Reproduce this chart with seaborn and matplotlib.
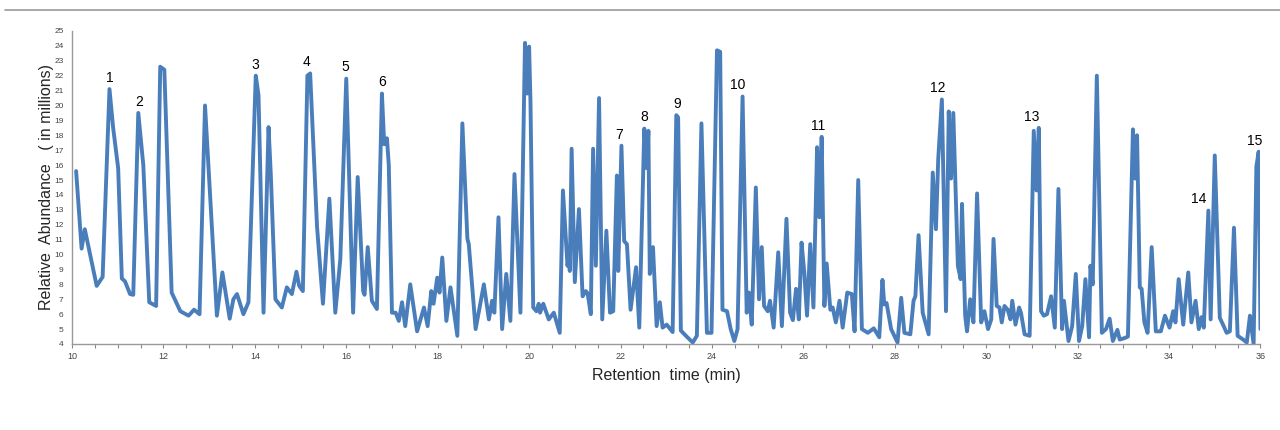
import numpy as np
import pandas as pd
import seaborn as sns
import matplotlib
matplotlib.use("Agg")
import matplotlib.pyplot as plt
from matplotlib.lines import Line2D
from matplotlib.ticker import MultipleLocator

# chromatogram trace (time in min, abundance in millions)
time_a = [10.09, 10.21, 10.28, 10.54, 10.67, 10.82, 10.90, 11.01, 11.09, 11.16, 11.27, 11.34,
          11.45, 11.56, 11.69, 11.84, 11.93, 12.02, 12.18, 12.37, 12.55, 12.67, 12.79, 12.91,
          13.17, 13.29, 13.45, 13.53, 13.61, 13.75, 13.86, 14.02, 14.08, 14.19, 14.30, 14.35,
          14.45, 14.59, 14.70, 14.81, 14.91, 14.97, 15.05, 15.15, 15.21, 15.36, 15.49, 15.63,
          15.76, 15.87, 16.00, 16.15, 16.25, 16.37, 16.40, 16.47, 16.56, 16.67, 16.78, 16.83,
          16.89, 16.93, 17.00, 17.08, 17.15, 17.22, 17.29, 17.40, 17.55, 17.70, 17.78, 17.86,
          17.91, 17.99]
abund_a = [15.6, 10.4, 11.7, 7.9, 8.5, 21.1, 18.5, 15.8, 8.4, 8.2, 7.35, 7.3,
           19.5, 16.0, 6.8, 6.55, 22.6, 22.4, 7.45, 6.2, 5.9, 6.3, 6.0, 20.0,
           5.9, 8.8, 5.7, 7.0, 7.35, 6.0, 6.8, 22.0, 20.7, 6.1, 18.55, 15.3,
           7.0, 6.45, 7.8, 7.35, 8.85, 7.9, 7.55, 22.0, 22.15, 11.9, 6.7, 13.75,
           6.1, 9.7, 21.8, 6.1, 15.2, 7.55, 7.3, 10.5, 6.9, 6.35, 20.8, 17.4,
           17.8, 16.0, 6.1, 6.1, 5.55, 6.8, 5.2, 8.0, 4.85, 6.45, 5.2, 7.55,
           6.7, 8.45]

time_b = [18.04, 18.10, 18.19, 18.28, 18.43, 18.54, 18.65, 18.68, 18.83, 19.01, 19.12, 19.19,
          19.24, 19.33, 19.41, 19.50, 19.59, 19.68, 19.81, 19.91, 19.96, 20.00, 20.03, 20.09,
          20.16, 20.21, 20.24, 20.31, 20.43, 20.54, 20.67, 20.74, 20.84, 20.87, 20.89, 20.93,
          21.00, 21.09, 21.17, 21.24, 21.28, 21.35, 21.40, 21.46, 21.53, 21.60, 21.69, 21.77,
          21.84, 21.92, 21.95, 22.02, 22.08, 22.14, 22.22, 22.34, 22.41, 22.52, 22.57, 22.61,
          22.64, 22.71, 22.79, 22.86, 22.92, 23.01, 23.14, 23.22, 23.26, 23.32, 23.43, 23.58,
          23.67, 23.77, 23.89, 23.99, 24.11, 24.18, 24.23, 24.33, 24.41, 24.49, 24.56, 24.67,
          24.76, 24.81, 24.87, 24.96, 25.03, 25.09, 25.14, 25.22, 25.27, 25.35, 25.45, 25.53,
          25.63, 25.71, 25.77, 25.84, 25.90, 25.96]
abund_b = [7.45, 9.8, 5.55, 7.8, 4.55, 18.8, 11.05, 10.7, 5.0, 8.0, 5.65, 6.9,
           6.1, 12.5, 5.0, 8.7, 5.55, 15.4, 6.1, 24.2, 20.8, 23.95, 20.25, 6.45,
           6.2, 6.7, 6.1, 6.7, 5.65, 6.1, 4.75, 14.3, 9.25, 10.0, 8.9, 17.1,
           8.15, 13.05, 7.2, 7.55, 7.4, 6.0, 17.1, 9.25, 20.5, 5.65, 11.6, 6.1,
           6.2, 15.3, 8.9, 17.3, 10.9, 10.7, 6.3, 9.15, 5.1, 18.45, 15.8, 18.3,
           8.7, 10.5, 5.2, 6.8, 5.1, 5.3, 4.8, 19.35, 19.2, 4.9, 4.55, 4.1,
           4.55, 18.8, 4.75, 4.75, 23.7, 23.6, 6.3, 6.2, 5.0, 4.2, 5.0, 20.6,
           6.1, 7.45, 5.3, 14.5, 7.0, 10.5, 6.55, 6.2, 6.9, 5.1, 10.15, 5.2,
           12.4, 6.1, 5.6, 7.7, 5.65, 10.8]

time_c = [26.02, 26.08, 26.15, 26.22, 26.30, 26.35, 26.40, 26.46, 26.51, 26.59, 26.64, 26.71,
          26.79, 26.86, 26.96, 27.06, 27.12, 27.20, 27.28, 27.41, 27.54, 27.66, 27.73, 27.77,
          27.82, 27.92, 28.06, 28.14, 28.21, 28.34, 28.41, 28.45, 28.52, 28.61, 28.74, 28.83,
          28.90, 28.95, 29.03, 29.12, 29.18, 29.23, 29.28, 29.38, 29.44, 29.47, 29.54, 29.58,
          29.65, 29.72, 29.80, 29.89, 29.96, 30.04, 30.11, 30.16, 30.23, 30.29, 30.34, 30.40,
          30.47, 30.53, 30.57, 30.64, 30.72, 30.76, 30.84, 30.95, 31.04, 31.10, 31.15, 31.20,
          31.26, 31.33, 31.42, 31.50, 31.58, 31.66, 31.70, 31.80, 31.88, 31.96, 32.03, 32.10,
          32.17, 32.25, 32.28, 32.33, 32.42, 32.53, 32.62, 32.70, 32.77, 32.87, 32.92, 33.03,
          33.10, 33.21, 33.26, 33.30, 33.36, 33.40, 33.46, 33.53, 33.62, 33.71, 33.82, 33.91,
          34.01, 34.09, 34.14, 34.21, 34.31, 34.42, 34.49, 34.58, 34.65, 34.71, 34.76, 34.86,
          34.91, 35.00, 35.11, 35.18, 35.26, 35.33, 35.42, 35.50, 35.62, 35.70, 35.77, 35.85,
          35.91, 35.96, 36.00]
abund_c = [8.8, 5.9, 10.7, 6.45, 17.2, 12.5, 17.9, 6.55, 9.4, 6.3, 6.45, 5.45,
           6.9, 5.1, 7.45, 7.35, 4.85, 15.0, 5.0, 4.75, 5.05, 4.45, 8.3, 6.65,
           6.75, 5.0, 4.1, 7.1, 4.75, 4.65, 6.9, 7.2, 11.3, 6.1, 4.65, 15.5,
           11.7, 16.4, 20.4, 6.2, 19.6, 15.1, 19.5, 9.25, 8.35, 13.4, 5.9, 4.85,
           7.0, 5.45, 14.1, 5.45, 6.2, 5.0, 5.65, 11.05, 6.55, 6.45, 5.45, 6.55,
           6.3, 5.65, 6.9, 5.3, 6.45, 6.1, 4.65, 4.55, 18.3, 14.3, 18.5, 6.2,
           5.9, 6.0, 7.2, 5.1, 14.4, 5.0, 6.9, 4.2, 5.2, 8.7, 4.2, 5.2,
           8.35, 4.45, 9.25, 8.0, 22.0, 4.75, 5.0, 5.7, 4.2, 4.95, 4.3, 4.4,
           4.5, 18.4, 15.1, 18.0, 7.8, 7.7, 5.45, 4.75, 10.5, 4.85, 4.85, 5.9,
           5.1, 6.2, 5.45, 8.35, 5.3, 8.8, 5.45, 6.9, 5.0, 5.8, 5.1, 12.95,
           5.65, 16.65, 5.75, 5.3, 4.75, 4.85, 11.8, 4.55, 4.3, 4.1, 5.9, 4.0,
           15.9, 16.9, 5.0]

peak_labels = ["1", "2", "3", "4", "5", "6", "7", "8", "9", "10", "11", "12", "13", "14", "15"]
peak_label_time = [10.83, 11.47, 14.01, 15.13, 15.98, 16.79, 21.98, 22.51, 23.23, 24.57,
                   26.32, 28.93, 30.99, 34.64, 35.87]

df = pd.DataFrame({
    "time": time_a + time_b + time_c,
    "abundance": abund_a + abund_b + abund_c,
})

sns.set_style("white")
plt.rcParams["font.family"] = ["Liberation Sans", "DejaVu Sans"]

fig = plt.figure(figsize=(12.8, 4.3), dpi=100)
ax = fig.add_axes([0.05625, 0.2, 0.9285, 0.728])

sns.lineplot(data=df, x="time", y="abundance", ax=ax, color="#4a7ebb",
             linewidth=2.8, estimator=None, sort=False,
             solid_joinstyle="round", solid_capstyle="round")

# peak numbers sit just above the tallest point near each label
t = df["time"].to_numpy()
a = df["abundance"].to_numpy()
for lab, lt in zip(peak_labels, peak_label_time):
    near = np.abs(t - lt) <= 0.25
    ax.text(lt, a[near].max() + 0.75, lab, ha="center", va="center", fontsize=10, color="black")

ax.set_xlim(10, 36)
ax.set_ylim(4, 25)
ax.xaxis.set_major_locator(MultipleLocator(2))
ax.xaxis.set_minor_locator(MultipleLocator(0.5))
ax.yaxis.set_major_locator(MultipleLocator(1))
ax.tick_params(axis="x", which="both", direction="out", length=3, width=0.8,
               color="#888888", labelsize=6.5, labelcolor="#444444", pad=3, bottom=True)
ax.tick_params(axis="y", length=0, labelsize=6, labelcolor="#444444", pad=6)

for side in ["top", "right"]:
    ax.spines[side].set_visible(False)
for side in ["left", "bottom"]:
    ax.spines[side].set_color("#999999")
    ax.spines[side].set_linewidth(1.0)

ax.set_xlabel("Retention  time (min)", fontsize=11.5, labelpad=5)
ax.set_ylabel("Relative  Abundance   ( in millions)", fontsize=11.5, labelpad=0)

fig.add_artist(Line2D([0.004, 1.0], [0.977, 0.977], color="#999999", linewidth=1.2))

fig.savefig("out.png", dpi=100)
